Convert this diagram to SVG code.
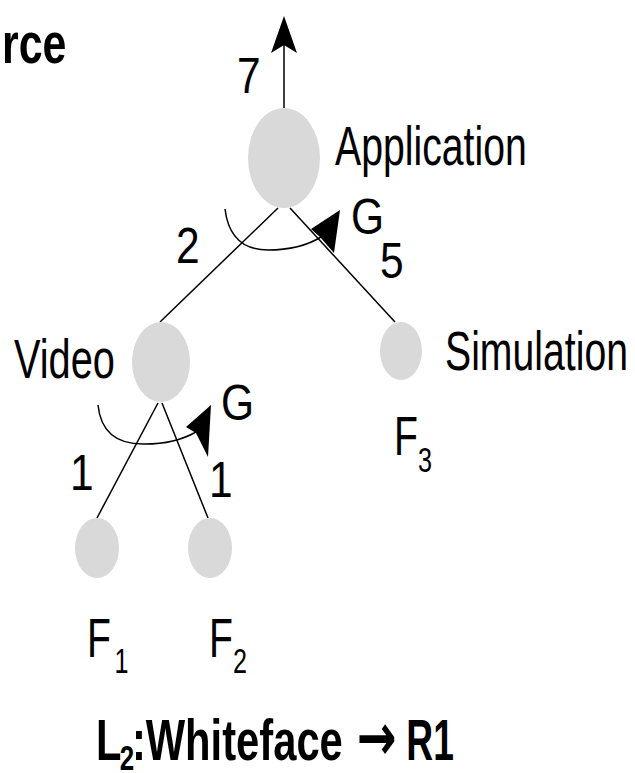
<svg xmlns="http://www.w3.org/2000/svg" width="635" height="773" viewBox="0 0 635 773">
<style>
.node{fill:#d9d9d9}
.t{font-family:"Liberation Sans",Arial,sans-serif;font-size:56px;fill:#000}
.n{font-family:"Liberation Sans",Arial,sans-serif;font-size:50px;fill:#000}
.b{font-family:"Liberation Sans",Arial,sans-serif;font-size:58px;font-weight:bold;fill:#000}
.sub{font-size:36px}
.arr{font-family:"DejaVu Sans",sans-serif;font-weight:bold}
.edge{stroke:#000;stroke-width:1.5;fill:none}
.head{fill:#000}
</style>
<rect width="635" height="773" fill="#fff"/>
<text class="b" transform="translate(2,63) scale(0.74,1)">rce</text>

<g id="connectors">
  <line class="edge" x1="284" y1="108" x2="284" y2="44"/>
  <polygon class="head" points="284,16 297,53 284,45 271,53"/>
  <line class="edge" x1="278" y1="208" x2="160" y2="322"/>
  <line class="edge" x1="290" y1="208" x2="395" y2="322"/>
  <line class="edge" x1="158" y1="403" x2="97" y2="518"/>
  <line class="edge" x1="162" y1="403" x2="208" y2="518"/>
  <path class="edge" d="M225,209 Q230,250 268,250 Q300,250 321,237"/>
  <polygon class="head" points="340,210 311,229 320,237 334,253"/>
  <path class="edge" d="M98,405 Q102,445 145,444 Q175,444 196,432"/>
  <polygon class="head" points="211,405 186,427 196,433 208,457"/>
  <text class="n" transform="translate(237,93) scale(0.85,1)">7</text>
  <text class="n" transform="translate(176,263) scale(0.85,1)">2</text>
  <text class="n" transform="translate(351,234) scale(0.85,1)">G</text>
  <text class="n" transform="translate(380,278) scale(0.85,1)">5</text>
  <text class="n" transform="translate(221,420) scale(0.85,1)">G</text>
  <text class="n" transform="translate(70,490) scale(0.85,1)">1</text>
  <text class="n" transform="translate(209,497) scale(0.85,1)">1</text>
</g>

<g id="application">
  <ellipse class="node" cx="284" cy="158" rx="36" ry="50"/>
  <text class="t" transform="translate(335,165) scale(0.7,1)">Application</text>
</g>
<g id="video">
  <ellipse class="node" cx="161" cy="362" rx="29" ry="40"/>
  <text class="t" transform="translate(14,378) scale(0.71,1)">Video</text>
</g>
<g id="simulation">
  <ellipse class="node" cx="401" cy="351" rx="21" ry="29"/>
  <text class="t" transform="translate(445,370) scale(0.7,1)">Simulation</text>
  <text class="t" transform="translate(394,455) scale(0.7,1)">F<tspan class="sub" dy="17">3</tspan></text>
</g>
<g id="f1">
  <ellipse class="node" cx="97" cy="548" rx="22" ry="30"/>
  <text class="t" transform="translate(87,657) scale(0.7,1)">F<tspan class="sub" dx="5" dy="16">1</tspan></text>
</g>
<g id="f2">
  <ellipse class="node" cx="210" cy="548" rx="22" ry="30"/>
  <text class="t" transform="translate(209,657) scale(0.7,1)">F<tspan class="sub" dy="16">2</tspan></text>
</g>

<text class="b" transform="translate(96,760) scale(0.72,1)">L<tspan class="sub" x="33" dy="10">2</tspan><tspan x="50" dy="-10">:</tspan><tspan x="69">Whiteface</tspan><tspan class="arr" x="362" font-size="66">→</tspan><tspan x="431" textLength="66" lengthAdjust="spacingAndGlyphs">R1</tspan></text>
</svg>
